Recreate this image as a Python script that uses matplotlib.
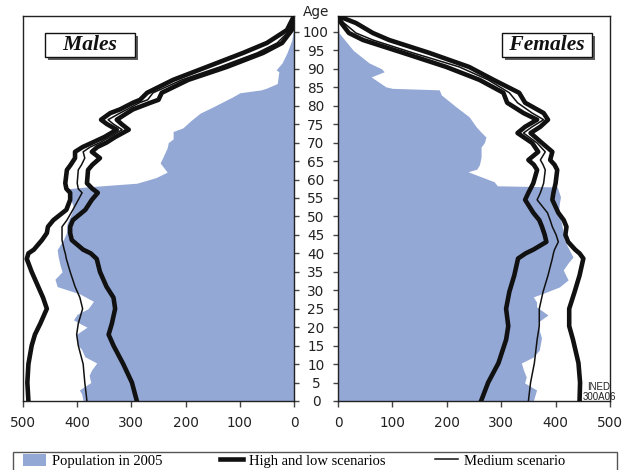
import numpy as np
import matplotlib.pyplot as plt
import matplotlib.patheffects as pe
from matplotlib.patches import Rectangle, Patch
from matplotlib.lines import Line2D

# population in 2005 (thousands)
male_pop_age = [0, 2, 3, 5, 7, 8.5, 10.3, 12, 14, 15, 18, 20, 21, 22, 23.5, 25, 27, 29, 31, 33,
                35, 37, 39, 41, 43.6, 45.5, 48, 51, 52.6, 55, 57.5, 58, 59, 60.5, 62, 64.5, 66,
                68.6, 70, 71, 73, 74, 76, 78, 79.7, 82.4, 83.5, 84.3, 84.8, 86, 89.2, 89.7,
                91.6, 94.3, 97.8, 99.7, 103]
male_pop = [389, 392, 396, 375, 378, 373, 364, 386, 392, 398, 402, 382, 395, 407, 400, 380, 370,
            395, 437, 441, 428, 432, 435, 437, 426, 420, 419, 410, 407, 413, 417, 382, 290, 255,
            234, 247, 242, 234, 232, 223, 223, 205, 190, 173, 149, 113, 100, 60, 50, 31, 28, 33,
            22, 13, 4, 2, 0]

female_pop_age = [0, 1.5, 3, 4.9, 6.5, 8.4, 10.3, 11.9, 13.8, 17.1, 19.2, 21.4, 23.3, 25.5, 26.8,
                  28.2, 29.5, 30.9, 32.8, 35.5, 37.4, 39, 41, 43.6, 45.5, 48.2, 51, 53.6, 55.3,
                  58, 58.3, 59.4, 62.1, 62.8, 64, 66.1, 68.8, 70, 71.5, 73, 74.3, 77, 79.7, 82.9,
                  84.3, 84.7, 85.1, 87.8, 89.2, 90, 91.6, 95, 99.7, 103]
female_pop = [359, 362, 365, 343, 346, 341, 337, 359, 370, 374, 370, 368, 386, 365, 365, 359, 383,
              407, 423, 414, 423, 432, 425, 416, 414, 411, 405, 407, 409, 403, 293, 287, 239, 255,
              260, 263, 263, 269, 272, 262, 254, 241, 217, 190, 186, 100, 88, 61, 85, 80, 57, 28,
              2, 0]

# projections
m_line_age = [0, 5, 10, 15, 18, 21, 25, 28, 31, 35, 38.5, 40, 41, 43.6, 45.5, 47.2, 49, 51.8,
              54.5, 56.4, 57.5, 59, 62.6, 64, 65.8, 67.5, 68.8, 70, 71.5, 73.5, 75, 76.2, 78,
              79, 80.8, 81.6, 83.5, 87, 90.5, 94.3, 97, 100.5, 104.3]
male_high = [490, 492, 490, 484, 478, 468, 456, 463, 472, 484, 493, 490, 480, 465, 456, 454, 444,
             420, 413, 413, 420, 422, 419, 412, 404, 404, 390, 372, 350, 327, 345, 356, 339, 321,
             297, 284, 271, 223, 161, 94, 50, 13, 0]
male_medium = [382, 386, 389, 398, 401, 398, 390, 395, 404, 413, 420, 422, 424, 428, 428, 428,
               419, 408, 398, 391, 398, 400, 398, 392, 386, 389, 376, 358, 340, 317, 333, 343,
               321, 308, 285, 270, 260, 207, 137, 68, 31, 7, 0]
male_low = [290, 299, 315, 333, 342, 336, 330, 333, 346, 358, 364, 375, 389, 410, 413, 413, 408,
            385, 373, 362, 372, 382, 380, 372, 358, 373, 363, 346, 330, 305, 318, 327, 308, 297,
            265, 250, 244, 195, 124, 57, 22, 4, 0]

f_line_age = [0, 5, 10.3, 16.6, 20.3, 25, 29.6, 34, 38.6, 40, 41, 43.1, 45, 47.2, 49, 51, 54.5,
              56.4, 59, 62.6, 64, 65.3, 67.5, 69.9, 72.6, 74.3, 76.2, 78, 80.8, 83.5, 87, 90.5,
              94.3, 97.8, 99.7, 102.4, 104.3]
female_high = [444, 445, 442, 432, 425, 425, 435, 444, 451, 444, 436, 423, 418, 420, 415, 405,
               394, 396, 400, 403, 398, 390, 394, 375, 354, 372, 386, 378, 344, 333, 286, 241,
               168, 94, 64, 33, 0]
female_medium = [350, 354, 361, 366, 370, 370, 377, 386, 394, 396, 398, 405, 401, 394, 390, 385,
                 366, 372, 378, 381, 377, 372, 381, 366, 341, 357, 378, 357, 330, 315, 276, 223,
                 138, 64, 33, 11, 0]
female_low = [263, 276, 295, 309, 313, 309, 315, 324, 331, 345, 359, 383, 380, 375, 370, 359, 344,
              350, 359, 366, 360, 350, 368, 357, 330, 344, 366, 341, 311, 304, 260, 199, 120, 46,
              20, 6, 0]

age_ticks = list(range(0, 101, 5))
pop_ticks = [0, 100, 200, 300, 400, 500]

BLUE = '#94a8d6'
INK = '#111111'
TICK_FONT = 'DejaVu Sans'
SERIF = 'Liberation Serif'

fig = plt.figure(figsize=(6.26, 4.70), dpi=100)
ax_m = fig.add_axes([23 / 626, 69 / 470, 271 / 626, 385 / 470])
ax_f = fig.add_axes([338 / 626, 69 / 470, 272 / 626, 385 / 470])

for ax, pop_age, pop, l_age, hi, med, lo in [
        (ax_m, male_pop_age, male_pop, m_line_age, male_high, male_medium, male_low),
        (ax_f, female_pop_age, female_pop, f_line_age, female_high, female_medium, female_low)]:
    ax.fill_betweenx(pop_age, 0, pop, color=BLUE, lw=0, zorder=1)
    ax.plot(hi, l_age, color=INK, lw=3.3, solid_joinstyle='round', zorder=3)
    ax.plot(lo, l_age, color=INK, lw=3.3, solid_joinstyle='round', zorder=3)
    ax.plot(med, l_age, color=INK, lw=1.1, zorder=3)
    ax.set_ylim(0, 104.3)
    ax.set_xticks(pop_ticks)
    ax.set_yticks(age_ticks)
    for sp in ax.spines.values():
        sp.set_color('#222222')
        sp.set_linewidth(1.0)
    ax.tick_params(axis='x', length=4, width=1, color='#444444', pad=6.5,
                   labelsize=9.8, labelcolor='#222222')
    for lab in ax.get_xticklabels():
        lab.set_fontfamily(TICK_FONT)

ax_m.set_xlim(500, 0)
ax_f.set_xlim(0, 500)

# age axis sits between the two halves
ax_m.yaxis.tick_right()
ax_m.tick_params(axis='y', length=3.6, width=1, color='#444444', pad=12.2,
                 labelsize=9.8, labelcolor='#222222')
for lab in ax_m.get_yticklabels():
    lab.set_horizontalalignment('center')
    lab.set_fontfamily(TICK_FONT)
ax_f.tick_params(axis='y', left=True, labelleft=False, length=3.6, width=1, color='#444444')

ax_m.text(1.081, 1.011, 'Age', transform=ax_m.transAxes, ha='center', va='center',
          fontsize=9.8, family=TICK_FONT, color='#222222')

# Males / Females boxes with shadow
for ax, txt, xpos in [(ax_m, '   Males   ', 0.247), (ax_f, ' Females ', 0.768)]:
    t = ax.text(xpos, 0.925, txt, transform=ax.transAxes, ha='center', va='center',
                fontsize=15.5, family=SERIF, style='italic', weight='bold', color=INK,
                bbox=dict(boxstyle='square,pad=0.09', fc='white', ec=INK, lw=1.0),
                zorder=5)
    t.get_bbox_patch().set_path_effects([
        pe.SimplePatchShadow(offset=(2.5, -2.5), shadow_rgbFace='#333333', alpha=0.8),
        pe.Normal()])

ax_f.text(0.96, 0.023, 'INED\n300A06', transform=ax_f.transAxes, ha='center', va='center',
          fontsize=7, family='Liberation Sans', linespacing=0.95, color='#222222', zorder=6)

# legend along the bottom, one entry per slot
fig.patches.append(Rectangle((13 / 626, -0.02), 604 / 626, 0.0583, transform=fig.transFigure,
                             fill=False, ec='#555555', lw=1.0))
entries = [(Patch(facecolor=BLUE, edgecolor='none'), 'Population in 2005', 23),
           (Line2D([], [], color=INK, lw=3.3), 'High and low scenarios', 220),
           (Line2D([], [], color=INK, lw=1.1), 'Medium scenario', 435)]
for handle, label, xpix in entries:
    fig.legend([handle], [label], loc='center left', bbox_to_anchor=(xpix / 626, 0.0195),
               frameon=False, borderpad=0, borderaxespad=0, handlelength=1.6,
               handleheight=0.9, handletextpad=0.4, prop={'family': SERIF, 'size': 10.5})

fig.savefig('out.png', dpi=100)
